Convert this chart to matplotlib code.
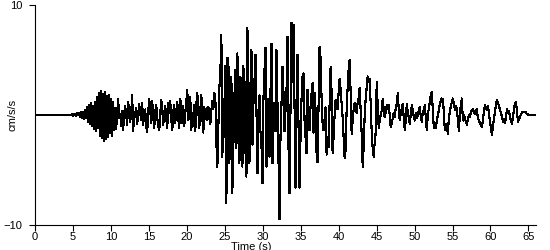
import matplotlib.pyplot as plt
import numpy as np

# sample interval of the record (s)
dt = 0.132

# ground acceleration, cm/s/s, one sample per dt
accel = [
    0.0, 0.0, 0.0, 0.0, 0.0, 0.0, 0.0, 0.0, 0.0, 0.0,
    0.0, 0.0, 0.0, 0.0, 0.0, 0.0, 0.0, 0.0, 0.0, 0.0,
    0.0, 0.0, 0.0, 0.0, 0.0, 0.0, 0.0, 0.0, 0.0, 0.0,
    0.0, 0.0, 0.0, 0.0, 0.0, 0.0, 0.0, 0.05, -0.05, 0.05,
    0.1, -0.1, 0.15, 0.0, 0.2, -0.2, 0.3, -0.3, 0.25, -0.4,
    0.5, -0.3, 0.7, -0.6, 0.9, -0.8, 1.1, -1.0, 0.8, -1.3,
    1.2, -1.5, 1.6, -1.2, 2.0, -1.9, 2.2, -2.1, 1.9, -2.4,
    2.1, -2.2, 1.7, -2.0, 1.8, -1.6, 1.5, -1.9, 1.2, -1.4,
    0.6, -1.3, 0.2, 1.5, -0.3, 0.1, -1.0, 0.4, -1.4, 0.2,
    0.8, 0.1, -0.9, 1.2, 0.3, -0.6, 0.2, 1.8, -1.5, 0.3,
    -0.2, 0.6, -0.8, 0.1, 1.0, 0.2, -0.5, 1.1, -0.9, 0.3,
    0.5, -1.1, -1.5, 0.2, 1.5, 0.4, -0.7, 1.3, -0.2, -1.2,
    0.3, 0.9, -0.2, -1.0, -1.4, 0.1, 1.4, 0.5, -0.9, 0.2,
    0.8, -0.3, -1.2, 1.1, 0.2, 1.3, -0.4, -1.4, 0.3, 0.9,
    -0.7, 0.2, 1.2, -0.4, -1.2, 1.5, 0.3, -0.7, 0.8, -1.0,
    0.2, 1.2, 2.3, -0.5, 0.4, 1.6, -1.4, 0.2, -1.0, 0.9,
    -1.5, 1.0, 2.0, 0.3, -1.2, 0.5, 1.8, -0.3, -1.6, 0.7,
    -0.4, 0.6, -0.5, 0.7, 0.1, -0.8, 0.4, 1.3, 0.5, 2.0,
    1.5, -2.5, -4.7, -1.0, 2.5, 4.0, 7.3, -3.8, 1.5, -2.0,
    4.5, -8.0, 5.2, 5.0, -4.4, 1.0, 3.5, -7.1, 2.0, -2.5,
    4.1, -3.0, 5.6, -2.0, -4.4, 3.5, 2.0, -4.7, 4.5, -3.5,
    3.0, -5.6, 7.9, -1.0, -4.4, 2.5, 5.9, -2.7, 1.0, 3.0,
    5.5, 0.5, -5.3, -1.0, 1.8, -1.5, -2.7, -6.2, 1.5, 4.0,
    6.1, -4.7, -1.0, 1.5, -3.8, 2.0, 6.5, -4.4, 0.0, 1.1,
    -1.5, 5.9, 1.0, -4.0, -9.5, -2.0, 1.0, 4.4, 2.0, -1.5,
    0.5, 2.3, 7.1, -3.0, -7.1, 1.0, 8.4, 3.0, 8.2, 1.0,
    -6.6, 0.5, 5.5, -1.0, -6.6, -2.0, 1.5, 3.5, 3.8, -0.5,
    -2.0, -3.5, 2.3, 0.5, -1.4, 0.8, 2.0, 2.9, -1.6, 2.0,
    0.5, -3.5, -4.3, 1.0, 6.2, 5.2, 1.5, -0.7, -1.4, -0.5,
    0.7, -3.6, -2.0, -2.9, 1.0, 4.4, 2.0, -3.5, -2.0, 0.0,
    1.4, 1.1, 0.5, 2.0, 3.3, 2.3, 1.0, -0.2, -2.0, -3.9,
    -3.2, 0.5, 2.5, 4.2, 5.0, 2.0, -1.7, -0.5, 0.5, 1.1,
    0.5, 0.2, 1.1, 1.5, 2.5, 0.5, -1.7, -4.7, -2.9, 0.0,
    1.5, 2.5, 3.5, 3.0, 3.3, 1.0, -1.6, -3.0, -3.8, -2.5,
    -1.6, 3.0, 1.0, -1.2, -0.5, 0.0, 0.4, 1.5, 0.5, -0.2,
    0.3, 0.9, 0.5, 0.9, 0.0, -1.1, -0.8, -0.3, 0.2, -0.2,
    0.7, 1.0, 2.0, 0.5, -0.5, 0.2, 0.6, 1.0, -0.3, -1.4,
    -0.5, 1.0, 0.3, -0.2, -0.8, 0.0, 0.9, 0.5, -0.2, -0.5,
    0.2, -0.3, 0.0, 0.4, 0.7, -0.2, -0.6, 0.2, 0.5, 0.9,
    -0.3, -1.4, 0.0, 0.6, 1.2, 1.8, 2.1, 0.5, -1.2, -1.0,
    -1.2, -0.5, 0.0, 0.4, 1.0, 1.3, 1.5, 1.4, 0.3, -1.4,
    -0.8, -1.0, -1.7, -0.3, 0.3, 0.8, 1.2, 1.5, 1.0, 0.5,
    0.8, 0.6, -0.5, -1.5, 0.0, 1.0, 1.5, -0.5, 0.0, -0.3,
    -0.6, -0.9, -0.4, 0.0, -0.2, 0.3, 0.4, 0.5, 0.3, 0.1,
    0.4, 0.5, -0.3, -0.5, -0.7, -0.9, -1.1, -0.4, 0.3, 0.9,
    0.6, 0.5, 0.8, 0.2, -0.6, -1.2, -1.8, -1.1, -0.3, 0.3,
    0.9, 1.4, 1.1, 0.8, 0.5, 0.2, -0.2, -0.6, -0.4, -0.7,
    -0.2, 0.5, 0.3, 0.4, -0.2, -0.5, -0.8, -0.2, 0.6, 1.0,
    1.2, 0.3, -0.6, -0.4, -0.2, 0.1, 0.2, 0.3, 0.25, 0.3,
    0.2, 0.1, 0.05, 0.0, 0.0, 0.0, 0.0, 0.0, 0.0, 0.0,
]

x_ticks = [0, 5, 10, 15, 20, 25, 30, 35, 40, 45, 50, 55, 60, 65]
y_ticks = [-10, 10]

plt.rcParams['font.family'] = ['Liberation Sans', 'DejaVu Sans']
plt.rcParams['font.size'] = 8

time = np.arange(len(accel)) * dt

fig = plt.figure(figsize=(5.5, 2.5), dpi=100)
ax = fig.add_axes([0.0636, 0.1, 0.911, 0.88])

ax.plot(time, accel, color='black', linewidth=0.8, antialiased=False)

ax.set_xlim(0, 66)
ax.set_ylim(-10, 10)
ax.set_xticks(x_ticks)
ax.set_yticks(y_ticks)

for s in ['top', 'right']:
    ax.spines[s].set_visible(False)
for s in ['left', 'bottom']:
    ax.spines[s].set_linewidth(0.8)

ax.tick_params(direction='out', length=4, width=0.8, pad=1)
ax.tick_params(axis='y', pad=5)

ax.set_xlabel('Time (s)', labelpad=0)
ax.xaxis.set_label_coords(0.431, -0.075)
ax.set_ylabel('cm/s/s')
ax.yaxis.set_label_coords(-0.035, 0.5)

fig.savefig('out.png', dpi=100)
